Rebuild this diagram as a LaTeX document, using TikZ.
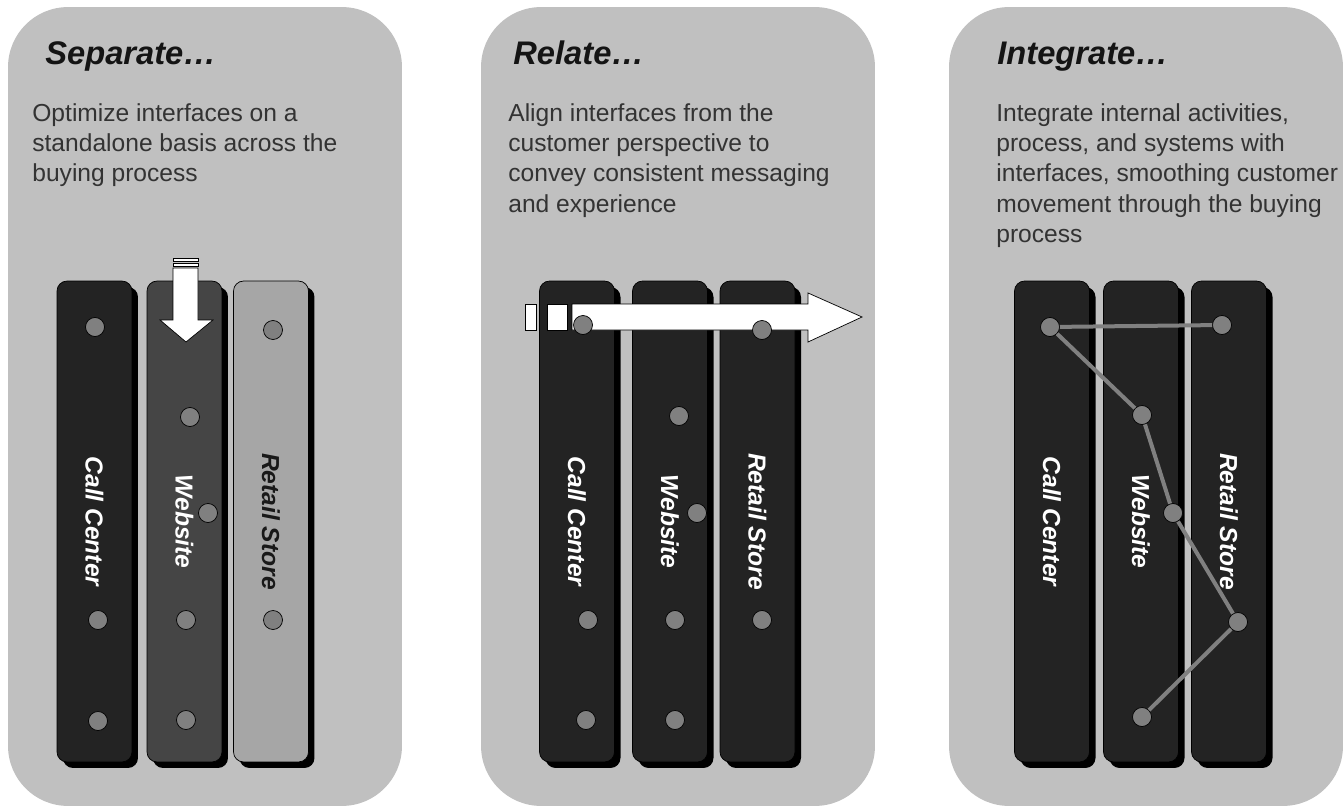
\documentclass[tikz,border=0pt]{standalone}
\usepackage{fontspec}
\setmainfont{Liberation Sans}
\usetikzlibrary{shadows}
\definecolor{panelgray}{HTML}{C0C0C0}
\definecolor{bardark}{HTML}{232323}
\definecolor{barmid}{HTML}{454545}
\definecolor{barlight}{HTML}{A6A6A6}
\definecolor{dotgray}{HTML}{808080}
\tikzset{
  panel/.style={fill=panelgray, rounded corners=1.2cm, minimum width=7.88cm,
    minimum height=15.98cm, inner sep=0},
  bar/.style={fill=#1, draw=black, thin, rounded corners=0.2cm, minimum width=1.5cm,
    minimum height=9.62cm, inner sep=0,
    drop shadow={shadow xshift=0.12cm, shadow yshift=-0.12cm, fill=black, opacity=1}},
  lbl/.style={rotate=-90, inner sep=0, text=white,
    font=\fontsize{14}{16}\selectfont\bfseries\itshape},
  dot/.style={circle, draw=black, thin, fill=dotgray, minimum size=0.38cm, inner sep=0},
  ttl/.style={anchor=base west, inner sep=0, text=black!92,
    font=\fontsize{18.6}{22}\selectfont\bfseries\itshape},
  body/.style={anchor=north west, align=left, inner sep=0, text=black!80,
    font=\fontsize{14}{17.3}\selectfont},
  link/.style={draw=dotgray, line width=0.08cm},
  fatarrow/.style={fill=white, draw=black, thin}
}

\begin{document}
\begin{tikzpicture}[x=0.02cm,y=-0.02cm]
  \fill[white] (0,0) rectangle (1344,807);
  % three grey panels
  \node[panel] (p1) at (205,406.5) {};
  \node[panel] (p2) at (678,406.5) {};
  \node[panel] (p3) at (1146,406.5) {};
  % headings and captions
  \node[ttl] (t1) at (45,65) {Separate…};
  \node[ttl] (t2) at (513,65) {Relate…};
  \node[ttl] (t3) at (997,65) {Integrate…};
  \node[body] (d1) at (32,103) {Optimize interfaces on a\\standalone basis across the\\buying process};
  \node[body] (d2) at (508,103) {Align interfaces from the\\customer perspective to\\convey consistent messaging\\and experience};
  \node[body] (d3) at (996,103) {Integrate internal activities,\\process, and systems with\\interfaces, smoothing customer\\movement through the buying\\process};

  % channel bars
  \node[bar=bardark] (a-cc) at (94.5,521.5) {};
  \node[bar=barmid] (a-web) at (184.5,521.5) {};
  \node[bar=barlight] (a-rs) at (271,521.5) {};
  \foreach \x [count=\i] in {577,670,757.5} \node[bar=bardark] (b\i) at (\x,521.5) {};
  \foreach \x [count=\i] in {1052,1141,1229} \node[bar=bardark] (c\i) at (\x,521.5) {};
  \node[lbl] at (a-cc) {Call Center};
  \node[lbl] at (a-web) {Website};
  \node[lbl, text=black!90] at (a-rs) {Retail Store};
  \node[lbl] at (b1) {Call Center};
  \node[lbl] at (b2) {Website};
  \node[lbl] at (b3) {Retail Store};
  \node[lbl] at (c1) {Call Center};
  \node[lbl] at (c2) {Website};
  \node[lbl] at (c3) {Retail Store};

  % down arrow (separate) and right arrow (relate)
  \draw[fatarrow] (173,258) rectangle (198,261);
  \draw[fatarrow] (173,263) rectangle (198,266);
  \draw[fatarrow] (173,268) -- (198,268) -- (198,320) -- (213,320) -- (186,342)
    -- (160,320) -- (173,320) -- cycle;
  \draw[fatarrow] (525,304) rectangle (536,330);
  \draw[fatarrow] (547,304) rectangle (567,330);
  \draw[fatarrow] (572,304) -- (808,304) -- (808,293) -- (862,317) -- (808,342)
    -- (808,330) -- (572,330) -- cycle;

  % touch points
  \foreach \n/\x/\y in {a1/95/327, a2/98/620, a3/98/721, a4/190/417, a5/208/513,
      a6/186/620, a7/186/720, a8/273/330, a9/273/620,
      b4/583/325, b5/588/620, b6/586/720, b7/679/416, b8/697/513, b9/675/620,
      b10/675/720, b11/762/330, b12/762/620}
    \node[dot] (\n) at (\x,\y) {};
  \foreach \n/\x/\y in {ct/1050/327, w1/1142/415, w2/1173/513, wb/1142/717,
      rt/1222/325, rb/1238/622}
    \node[dot] (\n) at (\x,\y) {};
  % customer path through the integrated channels
  \draw[link] (rt) -- (ct) -- (w1) -- (w2) -- (rb) -- (wb);

  \path[use as bounding box] (0,0) rectangle (1344,807);
\end{tikzpicture}
\end{document}
